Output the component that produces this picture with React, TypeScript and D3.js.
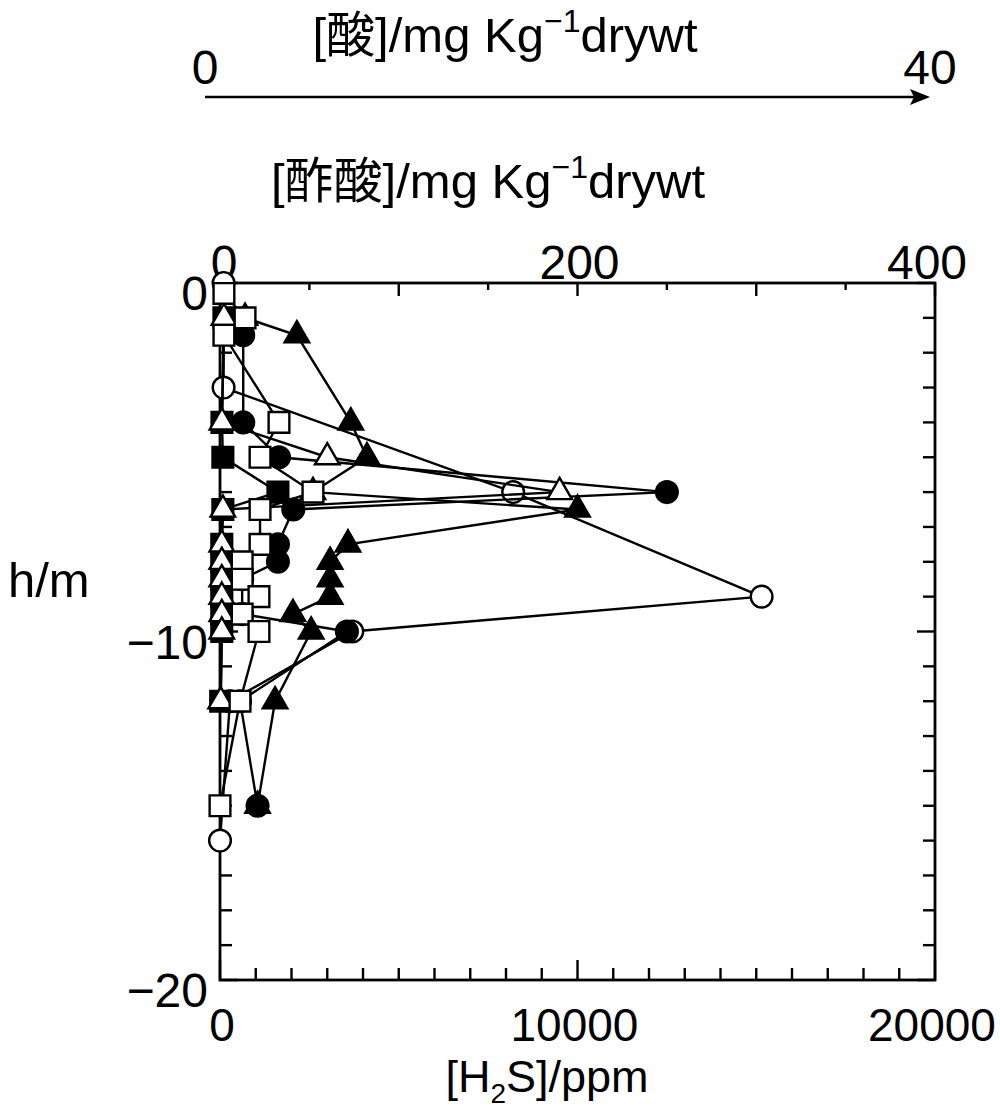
import React, { useEffect, useRef } from 'react';
import * as d3 from 'd3';

// profiles: depth (m) vs value, all read against the [H2S] ppm axis
const openCircleDepth = [0, -3, -6, -9, -10, -12, -16];
const openCircleValue = [100, 100, 8200, 15150, 3700, 280, 0];

const filledTriangleDepth = [-1, -1.5, -4, -5, -6, -6.5, -7.5, -8, -8.5, -9, -9.5, -10, -12, -15];
const filledTriangleValue = [700, 2150, 3660, 4110, 2600, 10000, 3580, 3080, 3080, 3080, 2040, 2550, 1540, 1050];

const filledCircleDepth = [-1.5, -4, -5, -6, -6.5, -7.5, -8, -8.5, -9.5, -10, -12, -15];
const filledCircleValue = [650, 650, 1650, 12500, 2050, 1620, 1620, 620, 620, 3550, 560, 1050];

const filledSquareDepth = [-1, -4, -5, -6, -6.5, -7.5, -8, -8.5, -9, -9.5, -10, -12];
const filledSquareValue = [110, 55, 80, 1620, 80, 50, 50, 50, 50, 50, 50, 20];

const openTriangleDepth = [-1, -4, -5, -6, -6.5, -7.5, -8, -8.5, -9, -9.5, -10, -12];
const openTriangleValue = [110, 55, 3000, 9500, 80, 50, 50, 50, 50, 50, 50, 20];

const openSquareDepth = [-0.3, -1, -1.5, -4, -5, -6, -6.5, -7.5, -8, -8.5, -9, -9.5, -10, -12, -15];
const openSquareValue = [110, 700, 110, 1650, 1120, 2600, 1120, 1120, 620, 620, 1090, 620, 1090, 560, 0];

// tick labels
const h2sTicks = [0, 10000, 20000];
const depthTicks = [0, -10, -20];
const acetateTicks = [0, 200, 400];
const acidTicks = [0, 40];

const FONT = "'Liberation Sans', Arial, 'Noto Sans CJK JP', sans-serif";

const App: React.FC = () => {
  const svgRef = useRef<SVGSVGElement>(null);

  useEffect(() => {
    if (!svgRef.current) return;
    const svg = d3.select(svgRef.current);
    svg.selectAll('*').remove();

    const x = d3.scaleLinear().domain([0, 20000]).range([220, 935]);
    const xTop = d3.scaleLinear().domain([0, 400]).range([220, 935]);
    const xAcid = d3.scaleLinear().domain([0, 40]).range([205, 930]);
    const y = d3.scaleLinear().domain([0, -20]).range([283, 980]);

    const g = svg.append('g').attr('font-family', FONT).attr('fill', '#000');

    // frame
    g.append('rect')
      .attr('x', x(0))
      .attr('y', y(0))
      .attr('width', x(20000) - x(0))
      .attr('height', y(-20) - y(0))
      .attr('fill', 'none')
      .attr('stroke', '#000')
      .attr('stroke-width', 2.8);

    // bottom ticks (inward)
    g.append('g')
      .selectAll('line')
      .data(d3.range(0, 20001, 1000))
      .enter()
      .append('line')
      .attr('x1', d => x(d))
      .attr('x2', d => x(d))
      .attr('y1', y(-20))
      .attr('y2', d => y(-20) - (d % 10000 === 0 ? 20 : 12))
      .attr('stroke', '#000')
      .attr('stroke-width', 2.4);

    // top ticks (inward)
    g.append('g')
      .selectAll('line')
      .data(d3.range(0, 401, 50))
      .enter()
      .append('line')
      .attr('x1', d => xTop(d))
      .attr('x2', d => xTop(d))
      .attr('y1', y(0))
      .attr('y2', d => y(0) + (d % 100 === 0 ? 13 : 7))
      .attr('stroke', '#000')
      .attr('stroke-width', 2.4);

    // left and right ticks (inward)
    const depthMinor = d3.range(0, -20.5, -1);
    g.append('g')
      .selectAll('line')
      .data(depthMinor)
      .enter()
      .append('line')
      .attr('x1', x(0))
      .attr('x2', d => x(0) + (d % 10 === 0 ? 18 : 12))
      .attr('y1', d => y(d))
      .attr('y2', d => y(d))
      .attr('stroke', '#000')
      .attr('stroke-width', 2.4);
    g.append('g')
      .selectAll('line')
      .data(depthMinor)
      .enter()
      .append('line')
      .attr('x1', x(20000))
      .attr('x2', d => x(20000) - (d % 10 === 0 ? 18 : 12))
      .attr('y1', d => y(d))
      .attr('y2', d => y(d))
      .attr('stroke', '#000')
      .attr('stroke-width', 2.4);

    // tick labels
    g.append('g')
      .selectAll('text')
      .data(h2sTicks)
      .enter()
      .append('text')
      .attr('x', d => x(d) + (d === 0 ? 2 : -3))
      .attr('y', 1041)
      .attr('text-anchor', 'middle')
      .attr('font-size', 46)
      .text(d => String(d));

    g.append('g')
      .selectAll('text')
      .data(depthTicks)
      .enter()
      .append('text')
      .attr('x', 208)
      .attr('y', d => y(d) + 27)
      .attr('text-anchor', 'end')
      .attr('font-size', 48)
      .text(d => (d < 0 ? '\u2212' + Math.abs(d) : String(d)));

    g.append('g')
      .selectAll('text')
      .data(acetateTicks)
      .enter()
      .append('text')
      .attr('x', d => xTop(d) + (d === 0 ? 4 : d === 400 ? -8 : 2))
      .attr('y', 279)
      .attr('text-anchor', 'middle')
      .attr('font-size', 48)
      .text(d => String(d));

    g.append('g')
      .selectAll('text')
      .data(acidTicks)
      .enter()
      .append('text')
      .attr('x', d => xAcid(d))
      .attr('y', 84)
      .attr('text-anchor', 'middle')
      .attr('font-size', 48)
      .text(d => String(d));

    // acid arrow axis
    g.append('line')
      .attr('x1', xAcid(0))
      .attr('x2', xAcid(40) - 10)
      .attr('y1', 97)
      .attr('y2', 97)
      .attr('stroke', '#000')
      .attr('stroke-width', 2.5);
    g.append('path')
      .attr('d', `M${xAcid(40)},97 L${xAcid(40) - 20},89 L${xAcid(40) - 16},97 L${xAcid(40) - 20},105 Z`)
      .attr('fill', '#000');

    // axis titles
    const unitTitle = (cx: number, by: number, head: string) => {
      const t = g.append('text')
        .attr('x', cx)
        .attr('y', by)
        .attr('text-anchor', 'middle')
        .attr('font-size', 49);
      t.append('tspan').text(head + '/mg Kg');
      t.append('tspan').attr('dy', -20).attr('font-size', 32).text('\u22121');
      t.append('tspan').attr('dy', 20).text('drywt');
    };
    unitTitle(505, 52, '[酸]');
    unitTitle(488, 198, '[酢酸]');

    const h2s = g.append('text')
      .attr('x', 547)
      .attr('y', 1092)
      .attr('text-anchor', 'middle')
      .attr('font-size', 45);
    h2s.append('tspan').text('[H');
    h2s.append('tspan').attr('dy', 11).attr('font-size', 28).text('2');
    h2s.append('tspan').attr('dy', -11).text('S]/ppm');

    g.append('text')
      .attr('x', 8)
      .attr('y', 597)
      .attr('font-size', 49)
      .text('h/m');

    // profiles, drawn in order so overlaps look like the original
    const series = [
      { depth: openCircleDepth, value: openCircleValue, shape: d3.symbolCircle, size: 370, fill: '#fff' },
      { depth: filledTriangleDepth, value: filledTriangleValue, shape: d3.symbolTriangle, size: 260, fill: '#000' },
      { depth: filledCircleDepth, value: filledCircleValue, shape: d3.symbolCircle, size: 370, fill: '#000' },
      { depth: filledSquareDepth, value: filledSquareValue, shape: d3.symbolSquare, size: 430, fill: '#000' },
      { depth: openTriangleDepth, value: openTriangleValue, shape: d3.symbolTriangle, size: 260, fill: '#fff' },
      { depth: openSquareDepth, value: openSquareValue, shape: d3.symbolSquare, size: 430, fill: '#fff' },
    ];

    const line = d3.line<[number, number]>()
      .x(d => x(d[1]))
      .y(d => y(d[0]));

    series.forEach(s => {
      const pts: [number, number][] = s.depth.map((d, i) => [d, s.value[i]]);
      const sg = g.append('g');
      sg.append('path')
        .attr('d', line(pts))
        .attr('fill', 'none')
        .attr('stroke', '#000')
        .attr('stroke-width', 2.4);
      sg.selectAll('path.mark')
        .data(pts)
        .enter()
        .append('path')
        .attr('class', 'mark')
        .attr('transform', d => `translate(${x(d[1])},${y(d[0])})`)
        .attr('d', d3.symbol().type(s.shape).size(s.size)())
        .attr('fill', s.fill)
        .attr('stroke', '#000')
        .attr('stroke-width', 2.4);
    });
  }, []);

  return (
    <svg
      ref={svgRef}
      width={1000}
      height={1114}
      style={{ position: 'absolute', left: 0, top: 0, background: '#fff' }}
    />
  );
};

export default App;
